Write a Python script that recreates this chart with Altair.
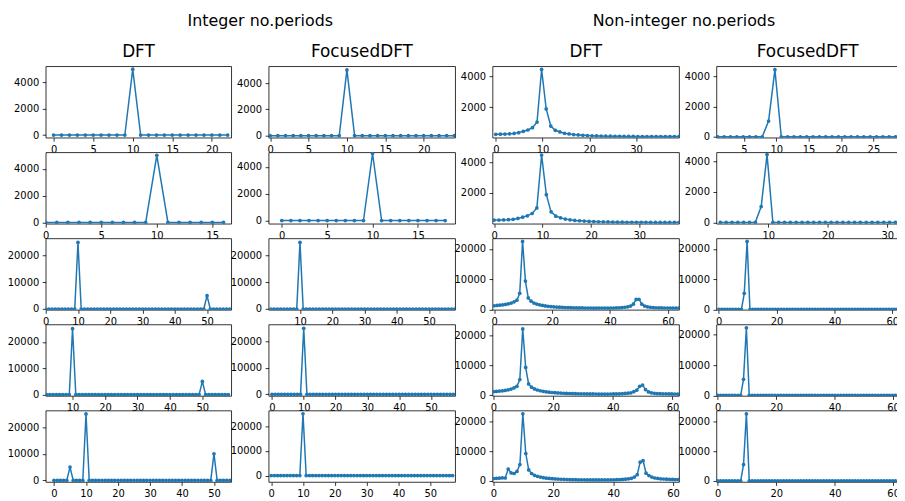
import altair as alt
import pandas as pd

BLUE = "#1f77b4"
BIN = 0.98  # frequency step of the non-integer DFT axis (read from the ticks)

# ---------------- Row 1 ----------------
r1c1_x = list(range(0, 23))
r1c1_y = [0] * 10 + [5000] + [0] * 12
r1c2_x = list(range(0, 25))
r1c2_y = [0] * 10 + [5000] + [0] * 14
r1c3_k = list(range(0, 41))
r1c3_y = [236, 240, 250, 265, 290, 344, 430, 516, 667, 1032,
          4470, 1890, 774, 495, 387, 301, 258, 215, 194, 172,
          150, 140, 130, 122, 115, 110, 105, 101, 98, 95,
          93, 91, 90, 89, 88, 88, 88, 88, 89, 90, 91]
r1c4_k = list(range(1, 31))
r1c4_y = [0] * 8 + [1040, 4450] + [0] * 20

# ---------------- Row 2 ----------------
r2c1_x = list(range(0, 17))
r2c1_y = [0] * 10 + [5000] + [0] * 6
r2c2_x = list(range(0, 19))
r2c2_y = [0] * 10 + [5000] + [0] * 8
r2c3_k = list(range(0, 40))
r2c3_y = [236, 240, 250, 265, 290, 344, 430, 516, 667, 1032,
          4470, 1890, 774, 495, 387, 301, 258, 215, 194, 172,
          150, 140, 130, 122, 115, 110, 105, 101, 98, 95,
          93, 91, 90, 89, 88, 88, 88, 88, 89, 90]
r2c4_k = list(range(2, 34))
r2c4_y = [0] * 7 + [1040, 4450] + [0] * 23

# ---------------- Row 3 ----------------
r3c1_x = list(range(0, 58))
r3c1_y = [0] * 10 + [25000] + [0] * 39 + [5000] + [0] * 7
r3c2_x = list(range(1, 59))
r3c2_y = [0] * 9 + [25000] + [0] * 48
r3c3_k = list(range(0, 66))
r3c3_y = [1200, 1300, 1400, 1500, 1630, 1850, 2070, 2500, 3040, 5300,
          22500, 9350, 3800, 2700, 2100, 1750, 1500, 1300, 1150, 1020,
          920, 840, 770, 710, 660, 620, 580, 550, 520, 500,
          480, 460, 445, 430, 420, 410, 400, 400, 400, 400,
          410, 420, 440, 470, 520, 600, 700, 850, 1100, 1700,
          3300, 3350, 1700, 1100, 850, 700, 600, 540, 500, 470,
          450, 430, 420, 410, 400, 400]
r3c4_k = list(range(0, 66))
r3c4_y = [0] * 9 + [5300, 22500] + [0] * 55

# ---------------- Row 4 ----------------
r4c1_x = list(range(2, 59))
r4c1_y = [0] * 8 + [25000] + [0] * 39 + [5000] + [0] * 8
r4c2_x = list(range(0, 58))
r4c2_y = [0] * 10 + [25000] + [0] * 47
r4c3_k = list(range(0, 65))
r4c3_y = [1200, 1280, 1380, 1480, 1600, 1800, 2050, 2450, 3000, 5250,
          22200, 9300, 3800, 2700, 2100, 1750, 1500, 1300, 1150, 1020,
          920, 840, 770, 710, 660, 620, 580, 550, 520, 500,
          480, 460, 445, 430, 420, 410, 400, 400, 400, 400,
          410, 420, 440, 470, 520, 600, 700, 800, 1200, 1700,
          3000, 3400, 1900, 1100, 800, 650, 560, 510, 480, 460,
          440, 420, 410, 400, 400]
r4c4_k = list(range(0, 65))
r4c4_y = [0] * 9 + [5300, 22300] + [0] * 54

# ---------------- Row 5 ----------------
r5c1_x = list(range(0, 56))
r5c1_y = [0] * 5 + [5000] + [0] * 4 + [25000] + [0] * 39 + [10000] + [0] * 5
r5c2_x = list(range(0, 58))
r5c2_y = [0] * 10 + [25000] + [0] * 47
r5c3_k = list(range(0, 65))
r5c3_y = [800, 900, 950, 1050, 1000, 4000, 2700, 2500, 3200, 5500,
          22500, 9200, 3700, 2500, 1900, 1550, 1300, 1100, 950, 850,
          760, 690, 630, 580, 540, 500, 470, 440, 420, 400,
          385, 370, 360, 350, 345, 340, 340, 345, 350, 360,
          375, 395, 420, 460, 520, 600, 720, 900, 1300, 2100,
          6300, 6800, 2600, 1800, 1300, 1000, 850, 740, 660, 600,
          550, 510, 480, 460, 440]
r5c4_k = list(range(0, 65))
r5c4_y = [0] * 9 + [5500, 22500] + [0] * 54

col_titles = ["DFT", "FocusedDFT", "DFT", "FocusedDFT"]
group_titles = ["Integer no.periods", "Non-integer no.periods"]
col_widths = [187, 188, 188, 184]

T5 = [0, 5, 10, 15, 20]
T5b = [0, 5, 10, 15]
T10 = [0, 10, 20, 30, 40, 50]
T20 = [0, 20, 40, 60]
Y5 = [0, 2000, 4000]
Y25 = [0, 10000, 20000]

def fx(ks):
    return [k * BIN for k in ks]

panels = [
    # row 1
    (r1c1_x, r1c1_y, [-1.0, 22.45], [-200, 5220], T5, Y5),
    (r1c2_x, r1c2_y, [-0.2, 24.1], [-150, 5280], T5, Y5),
    (fx(r1c3_k), r1c3_y, [-0.7, 39.2], [15, 4680], [0, 10, 20, 30], [2000, 4000]),
    (fx(r1c4_k), r1c4_y, [0.77, 28.95], [-60, 4680], [5, 10, 15, 20, 25], Y5),
    # row 2
    (r2c1_x, r2c1_y, [0, 16.7], [-100, 5220], T5b, Y5),
    (r2c2_x, r2c2_y, [-1.45, 19.1], [-240, 5090], T5b, Y5),
    (fx(r2c3_k), r2c3_y, [-0.34, 38.2], [0, 4650], [0, 10, 20, 30], [2000, 4000]),
    (fx(r2c4_k), r2c4_y, [1.3, 31.97], [-90, 4600], [10, 20, 30], Y5),
    # row 3
    (r3c1_x, r3c1_y, [0, 57.5], [-300, 26500], T10, Y25),
    (r3c2_x, r3c2_y, [0.28, 58.1], [-300, 26500], T10[1:], Y25),
    (fx(r3c3_k), r3c3_y, [-0.57, 63.8], [-150, 23500], T20, Y25),
    (fx(r3c4_k), r3c4_y, [-0.8, 62.3], [-150, 23500], T20, Y25),
    # row 4
    (r4c1_x, r4c1_y, [1.73, 58.9], [-500, 26600], T10[1:], Y25),
    (r4c2_x, r4c2_y, [-1.04, 57.6], [-600, 26460], T10, Y25),
    (fx(r4c3_k), r4c3_y, [-0.33, 62.2], [-220, 23700], T20, Y25),
    (fx(r4c4_k), r4c4_y, [-0.45, 62.05], [-150, 23400], T20, Y25),
    # row 5
    (r5c1_x, r5c1_y, [-2.6, 55.4], [-600, 26300], T10, Y25),
    (r5c2_x, r5c2_y, [-0.8, 57.8], [-2600, 26300], T10, Y25),
    (fx(r5c3_k), r5c3_y, [-0.33, 62.0], [-330, 23600], T20, Y25),
    (fx(r5c4_k), r5c4_y, [-0.45, 62.0], [-330, 23600], T20, Y25),
]


def header(i):
    c = alt.Chart(pd.DataFrame({"t": [""]})).mark_text().encode(text="t:N")
    props = dict(width=col_widths[i], height=1,
                 view=alt.ViewBackground(stroke="transparent", fill="transparent"))
    if i in (0, 2):
        txt = group_titles[0] if i == 0 else group_titles[1]
        props["title"] = alt.Title(txt, anchor="start", frame="group",
                                   dx=143 if i == 0 else 101, offset=3,
                                   fontSize=16, fontWeight="normal",
                                   baseline="alphabetic", color="black",
                                   font="DejaVu Sans")
    return c.properties(**props)


def panel(idx, spec):
    xs, ys, xdom, ydom, xt, yt = spec
    col = idx % 4
    df = pd.DataFrame({"x": xs, "y": ys})
    ch = alt.Chart(df).mark_line(
        color=BLUE, strokeWidth=1.5, clip=True,
        point=alt.OverlayMarkDef(filled=True, size=14, color=BLUE, clip=True),
    ).encode(
        x=alt.X("x:Q", scale=alt.Scale(domain=xdom, nice=False, zero=False),
                axis=alt.Axis(values=xt, title=None, format="d")),
        y=alt.Y("y:Q", scale=alt.Scale(domain=ydom, nice=False, zero=False),
                axis=alt.Axis(values=yt, title=None, format="d")),
    )
    props = dict(width=col_widths[col], height=72)
    if idx < 4:
        props["title"] = alt.Title(col_titles[col], frame="group", offset=0, dy=8,
                                   fontSize=17, fontWeight="normal",
                                   baseline="alphabetic", color="black",
                                   font="DejaVu Sans")
    return ch.properties(**props)


cells = [header(i) for i in range(4)] + [panel(i, s) for i, s in enumerate(panels)]

chart = alt.concat(
    *cells, columns=4, spacing={"row": 14.75, "column": 37.67}, bounds="flush"
).properties(
    padding={"top": 3, "left": -2, "right": -3, "bottom": 0}
).configure(
    font="DejaVu Sans"
).configure_view(
    stroke="black", strokeWidth=0.8, fill="white"
).configure_axis(
    domain=False, grid=False, ticks=True, tickColor="black", tickSize=3.5,
    tickWidth=0.8, labelFontSize=10, labelColor="black", labelFont="DejaVu Sans",
    labelPadding=3.5, labelFlush=False, labelOverlap=False
)

chart.save("out.html", embed_options={"renderer": "svg", "actions": False})
